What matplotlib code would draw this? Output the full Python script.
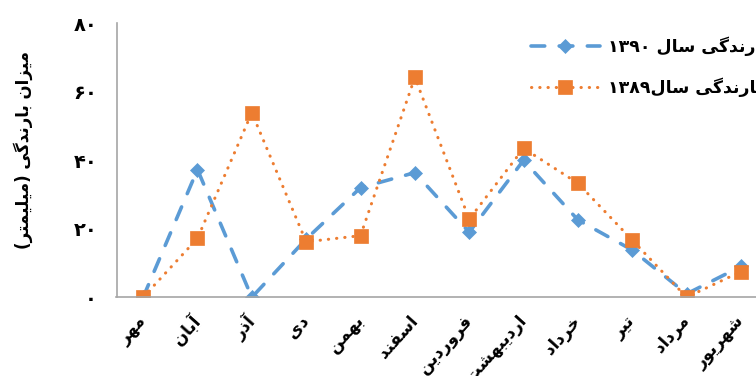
import re

import matplotlib

matplotlib.use("Agg")
import matplotlib.pyplot as plt

plt.rcParams["font.family"] = ["DejaVu Sans"]

MONTHS = ["مهر", "آبان", "آذر", "دی", "بهمن", "اسفند",
          "فروردین", "اردیبهشت", "خرداد", "تیر", "مرداد", "شهریور"]
RAIN_1390 = [0, 37.3, 0, 17.0, 32.0, 36.4, 19.0, 40.0, 22.6, 13.8, 1.0, 9.0]
RAIN_1389 = [0, 17.2, 53.9, 16.2, 18.0, 64.2, 22.8, 43.5, 33.3, 16.7, 0, 7.5]
LABEL_1390 = "بارندگی سال ۱۳۹۰"
LABEL_1389 = "بارندگی سال۱۳۸۹"
Y_LABEL = "میزان بارندگی (میلیمتر)"
Y_TICKS = [0, 20, 40, 60, 80]
Y_TICK_LABELS = ["۰", "۲۰", "۴۰", "۶۰", "۸۰"]

BLUE = "#5B9BD5"
ORANGE = "#ED7D31"
AXIS_GREY = "#A6A6A6"

# isolated, final, initial, medial presentation forms
ARABIC_FORMS = {
    "\u0622": ("\uFE81", "\uFE82", None, None),
    "\u0627": ("\uFE8D", "\uFE8E", None, None),
    "\u0628": ("\uFE8F", "\uFE90", "\uFE91", "\uFE92"),
    "\u062A": ("\uFE95", "\uFE96", "\uFE97", "\uFE98"),
    "\u062E": ("\uFEA5", "\uFEA6", "\uFEA7", "\uFEA8"),
    "\u062F": ("\uFEA9", "\uFEAA", None, None),
    "\u0630": ("\uFEAB", "\uFEAC", None, None),
    "\u0631": ("\uFEAD", "\uFEAE", None, None),
    "\u0632": ("\uFEAF", "\uFEB0", None, None),
    "\u0633": ("\uFEB1", "\uFEB2", "\uFEB3", "\uFEB4"),
    "\u0634": ("\uFEB5", "\uFEB6", "\uFEB7", "\uFEB8"),
    "\u0641": ("\uFED1", "\uFED2", "\uFED3", "\uFED4"),
    "\u0644": ("\uFEDD", "\uFEDE", "\uFEDF", "\uFEE0"),
    "\u0645": ("\uFEE1", "\uFEE2", "\uFEE3", "\uFEE4"),
    "\u0646": ("\uFEE5", "\uFEE6", "\uFEE7", "\uFEE8"),
    "\u0647": ("\uFEE9", "\uFEEA", "\uFEEB", "\uFEEC"),
    "\u0648": ("\uFEED", "\uFEEE", None, None),
    "\u06AF": ("\uFB92", "\uFB93", "\uFB94", "\uFB95"),
    "\u06CC": ("\uFBFC", "\uFBFD", "\uFBFE", "\uFBFF"),
    "\u064A": ("\uFBFC", "\uFBFD", "\uFBFE", "\uFBFF"),
}
DIGITS = "0123456789\u06F0\u06F1\u06F2\u06F3\u06F4\u06F5\u06F6\u06F7\u06F8\u06F9"


def shape(text):
    """Join Persian letters and lay the string out right-to-left."""
    glyphs = []
    for i, ch in enumerate(text):
        forms = ARABIC_FORMS.get(ch)
        if forms is None:
            glyphs.append(ch)
            continue
        prev = ARABIC_FORMS.get(text[i - 1]) if i > 0 else None
        nxt = ARABIC_FORMS.get(text[i + 1]) if i + 1 < len(text) else None
        join_prev = prev is not None and prev[2] is not None
        join_next = forms[2] is not None and nxt is not None
        if join_prev and join_next:
            glyphs.append(forms[3])
        elif join_prev:
            glyphs.append(forms[1])
        elif join_next:
            glyphs.append(forms[2])
        else:
            glyphs.append(forms[0])
    runs = re.findall(f"[{DIGITS}]+|[^{DIGITS}]+", "".join(glyphs))
    visual = "".join(r if r[0] in DIGITS else r[::-1] for r in reversed(runs))
    return visual.translate(str.maketrans("()", ")("))


fig = plt.figure(figsize=(7.56, 3.76), dpi=100)
ax = fig.add_axes([116.5 / 756, 78.7 / 376, 651.6 / 756, 274 / 376])

x = range(len(MONTHS))
ax.plot(x, RAIN_1390, color=BLUE, lw=2.6, dashes=(3.8, 4.0),
        dash_capstyle="round", marker="D", ms=7.2, mew=0.5,
        label=shape(LABEL_1390))
ax.plot(x, RAIN_1389, color=ORANGE, lw=2.2, dashes=(0.1, 2.6),
        dash_capstyle="round", marker="s", ms=10.5, mew=0.5,
        label=shape(LABEL_1389))

ax.set_xlim(-0.49, 11.5)
ax.set_ylim(0, 80)
ax.set_yticks(Y_TICKS)
ax.set_yticklabels(Y_TICK_LABELS, fontsize=14, fontweight="bold")
ax.set_xticks(list(x))
ax.set_xticklabels([shape(m) for m in MONTHS], fontsize=12, fontweight="bold",
                   rotation=48, rotation_mode="anchor", ha="right", va="center")
ax.tick_params(axis="y", length=0, pad=14)
ax.tick_params(axis="x", length=0, pad=15)

for side in ("top", "right"):
    ax.spines[side].set_visible(False)
for side in ("left", "bottom"):
    ax.spines[side].set_color(AXIS_GREY)
    ax.spines[side].set_linewidth(1.2)

fig.text(23 / 756, 1 - 150 / 376, shape(Y_LABEL), rotation=90, fontsize=12,
         fontweight="bold", ha="center", va="center")

ax.legend(loc="upper left", bbox_to_anchor=(531 / 756, 1 - 37 / 376),
          bbox_transform=fig.transFigure, frameon=False,
          handlelength=3.97, handletextpad=0.46, labelspacing=1.2,
          borderpad=0, borderaxespad=0, prop={"weight": "bold", "size": 12.5})

fig.savefig("out.png", dpi=100)
